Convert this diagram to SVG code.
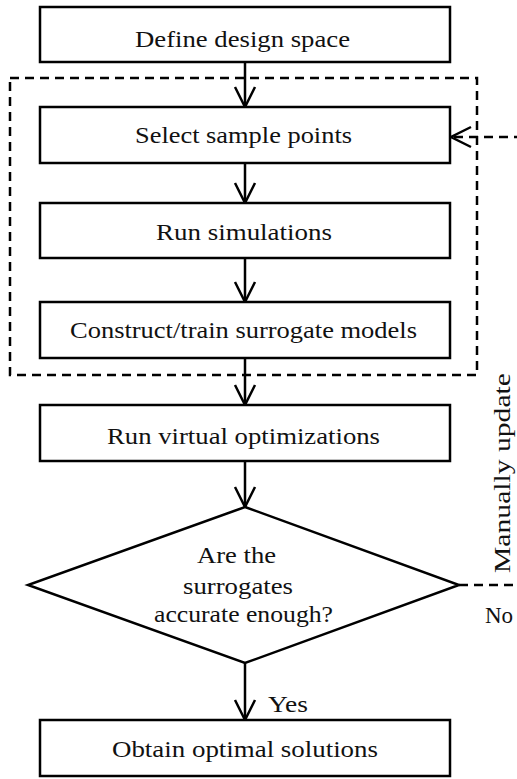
<svg xmlns="http://www.w3.org/2000/svg" width="517" height="779" viewBox="0 0 517 779">
<style>
.box{fill:#fff;stroke:#000;stroke-width:2.5}
.t{font-family:"Liberation Serif","Times New Roman",serif;font-size:23px;fill:#111}
.ln{fill:none;stroke:#000;stroke-width:2.5}
.dash{fill:none;stroke:#000;stroke-width:2.5;stroke-dasharray:9 6}
</style>
<defs>
<marker id="v" markerUnits="userSpaceOnUse" viewBox="-23 -12 25 24" refX="0" refY="0" markerWidth="25" markerHeight="24" orient="auto" overflow="visible">
<path d="M-20,-10 L0,0 L-20,10" fill="none" stroke="#000" stroke-width="2.5"/>
</marker>
</defs>
<rect width="517" height="779" fill="#fff"/>
<g id="group-loop"><rect class="dash" x="10" y="78" width="467" height="297"/></g>
<g id="connectors">
<line class="ln" x1="245" y1="62" x2="245" y2="107" marker-end="url(#v)"/>
<line class="ln" x1="245" y1="163" x2="245" y2="203" marker-end="url(#v)"/>
<line class="ln" x1="245" y1="258" x2="245" y2="302" marker-end="url(#v)"/>
<line class="ln" x1="245" y1="358" x2="245" y2="405" marker-end="url(#v)"/>
<line class="ln" x1="245" y1="461" x2="245" y2="507" marker-end="url(#v)"/>
<line class="ln" x1="245" y1="663" x2="245" y2="720" marker-end="url(#v)"/>
<path class="dash" d="M459,585 H522 V137 H451" marker-end="url(#v)"/>
<text class="t" x="268" y="712" textLength="40" lengthAdjust="spacingAndGlyphs">Yes</text>
<text class="t" x="485" y="623">No</text>
<text class="t" transform="translate(510,573) rotate(-90)" x="0" y="0" textLength="200" lengthAdjust="spacingAndGlyphs">Manually update</text>
</g>
<g id="n1"><rect class="box" x="40" y="7" width="410" height="55"/><text class="t" x="135" y="47" textLength="215" lengthAdjust="spacingAndGlyphs">Define design space</text></g>
<g id="n2"><rect class="box" x="40" y="107" width="410" height="56"/><text class="t" x="135" y="143" textLength="217" lengthAdjust="spacingAndGlyphs">Select sample points</text></g>
<g id="n3"><rect class="box" x="40" y="203" width="410" height="55"/><text class="t" x="156" y="240" textLength="176" lengthAdjust="spacingAndGlyphs">Run simulations</text></g>
<g id="n4"><rect class="box" x="40" y="302" width="410" height="56"/><text class="t" x="70" y="338" textLength="347" lengthAdjust="spacingAndGlyphs">Construct/train surrogate models</text></g>
<g id="n5"><rect class="box" x="40" y="405" width="410" height="56"/><text class="t" x="107" y="444" textLength="273" lengthAdjust="spacingAndGlyphs">Run virtual optimizations</text></g>
<g id="n6"><polygon class="box" points="245,507 459,585 245,663 28,585"/>
<text class="t" x="197" y="563" textLength="79" lengthAdjust="spacingAndGlyphs">Are the</text>
<text class="t" x="183" y="594" textLength="110" lengthAdjust="spacingAndGlyphs">surrogates</text>
<text class="t" x="154" y="622" textLength="179" lengthAdjust="spacingAndGlyphs">accurate enough?</text></g>
<g id="n7"><rect class="box" x="40" y="720" width="410" height="56"/><text class="t" x="112" y="757" textLength="266" lengthAdjust="spacingAndGlyphs">Obtain optimal solutions</text></g>
</svg>
